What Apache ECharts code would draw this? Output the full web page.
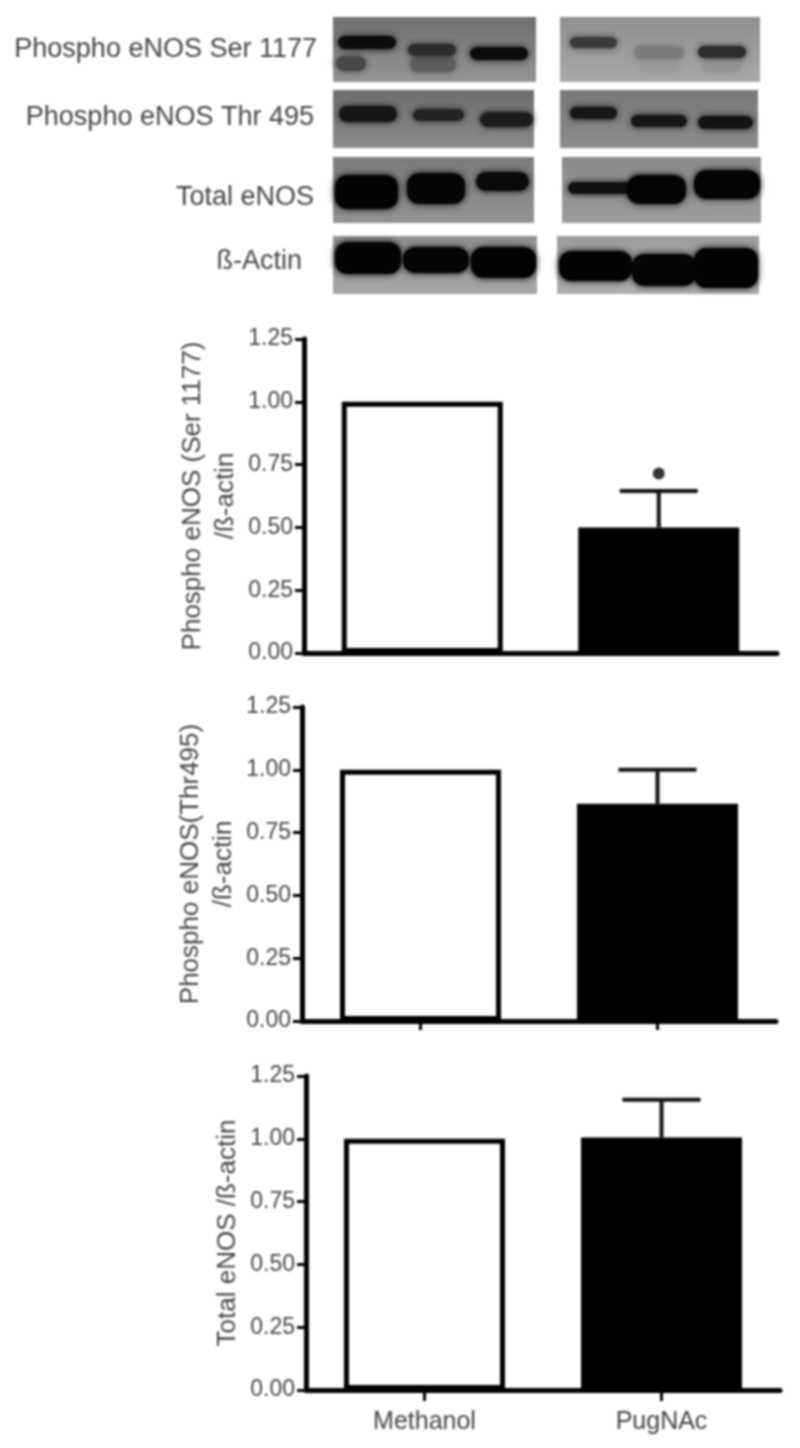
<!DOCTYPE html>
<html>
<head>
<meta charset="utf-8">
<style>
  html, body { margin: 0; padding: 0; background: #fff; }
  #main { width: 800px; height: 1448px; filter: blur(0.9px); }
</style>
<script src="https://cdn.jsdelivr.net/npm/echarts@6/dist/echarts.min.js"></script>
</head>
<body>
<div id="main"></div>
<script>
const categories = ['Methanol', 'PugNAc']
const tickLabels = ['0.00', '0.25', '0.50', '0.75', '1.00', '1.25']
const blotLabels = ['Phospho eNOS Ser 1177', 'Phospho eNOS Thr 495', 'Total eNOS', 'ß-Actin']

const serValues = [1.0, 0.5]
const serErrorTops = [null, 0.645]
const serMarkers = [null, 0.715]
const thrValues = [1.0, 0.865]
const thrErrorTops = [null, 1.0]
const totalValues = [1.0, 1.005]
const totalErrorTops = [null, 1.155]

const FONT = '"Liberation Sans", Arial, sans-serif'
const TEXT_COLOR = '#454545'

// blot panels: [x, y, w, h, fill top, fill bottom, bands [x, y, w, h, colour]]
const blotPanels = [
  [333, 17, 203, 65, '#6f6f6f', '#959595', [
    [336, 56, 30, 15, '#484848'], [410, 57, 46, 15, '#5e5e5e'], [338, 36, 58, 13, '#0c0c0c'],
    [408, 44, 48, 12, '#2c2c2c'], [470, 47, 58, 13, '#0c0c0c']]],
  [560, 17, 200, 65, '#8f8f8f', '#a8a8a8', [
    [702, 58, 40, 14, '#959595'], [638, 58, 42, 14, '#9a9a9a'], [570, 37, 47, 11, '#3c3c3c'],
    [634, 46, 50, 13, '#7c7c7c'], [698, 46, 48, 12, '#2c2c2c']]],
  [333, 90, 201, 58, '#6d6d6d', '#8a8a8a', [
    [339, 106, 58, 16, '#161616'], [413, 109, 51, 12, '#242424'], [480, 112, 53, 15, '#1c1c1c']]],
  [560, 90, 198, 58, '#787878', '#8c8c8c', [
    [570, 107, 47, 12, '#161616'], [631, 115, 56, 12, '#161616'], [698, 116, 55, 13, '#141414']]],
  [333, 157, 201, 66, '#7b7b7b', '#929292', [
    [335, 175, 63, 34, '#030303'], [407, 173, 58, 31, '#050505'], [476, 172, 53, 19, '#0a0a0a']]],
  [562, 157, 199, 66, '#8a8a8a', '#9c9c9c', [
    [568, 182, 63, 12, '#101010'], [627, 175, 59, 29, '#040404'], [694, 170, 66, 29, '#040404']]],
  [333, 236, 204, 58, '#909090', '#a6a6a6', [
    [335, 242, 66, 32, '#030303'], [403, 247, 66, 26, '#050505'], [471, 247, 65, 31, '#030303']]],
  [557, 236, 202, 58, '#9c9c9c', '#aeaeae', [
    [559, 251, 73, 30, '#030303'], [632, 254, 64, 32, '#050505'], [694, 248, 64, 40, '#030303']]]
]
const blotLabelRows = [
  { x: 317, y: 50 },
  { x: 314, y: 118 },
  { x: 314, y: 198 },
  { x: 302, y: 262 }
]

function buildBlotGraphics() {
  let elements = []
  blotPanels.forEach(panel => {
    elements.push({
      type: 'rect',
      silent: true,
      z: 1,
      shape: { x: panel[0], y: panel[1], width: panel[2], height: panel[3] },
      style: {
        fill: new echarts.graphic.LinearGradient(0, 0, 0, 1, [
          { offset: 0, color: panel[4] },
          { offset: 1, color: panel[5] }
        ])
      }
    })
    panel[6].forEach(band => {
      elements.push({
        type: 'rect',
        silent: true,
        z: 2,
        shape: { x: band[0], y: band[1], width: band[2], height: band[3], r: Math.min(band[3] / 2, 12) },
        style: { fill: band[4], shadowBlur: 7, shadowColor: band[4] }
      })
    })
  })
  blotLabels.forEach((text, i) => {
    elements.push({
      type: 'text',
      silent: true,
      z: 3,
      x: blotLabelRows[i].x,
      y: blotLabelRows[i].y,
      style: {
        text: text,
        font: '27px ' + FONT,
        fill: TEXT_COLOR,
        align: 'right',
        verticalAlign: 'middle'
      }
    })
  })
  return elements
}

// white bar with outline, black bar solid, both same outer width
function barData(values) {
  return values.map((v, i) => ({
    value: v,
    itemStyle: {
      color: i === 0 ? '#fff' : '#000',
      borderColor: '#000',
      borderWidth: 5
    }
  }))
}

function renderErrorBar(params, api) {
  let top = api.value(1)
  if (top === null || isNaN(top)) {
    return
  }
  let index = api.value(0)
  let capPoint = api.coord([index, top])
  let basePoint = api.coord([index, api.value(2)])
  let lineStyle = { stroke: '#111', lineWidth: 4 }
  return {
    type: 'group',
    children: [
      { type: 'line', shape: { x1: capPoint[0], y1: capPoint[1], x2: basePoint[0], y2: basePoint[1] }, style: lineStyle },
      { type: 'line', shape: { x1: capPoint[0] - 39, y1: capPoint[1], x2: capPoint[0] + 39, y2: capPoint[1] }, style: lineStyle }
    ]
  }
}

const panels = [
  { values: serValues, errorTops: serErrorTops, markers: serMarkers, name: 'Phospho eNOS (Ser 1177)\n/ß-actin', grid: { left: 304, top: 339, width: 473, height: 314 }, tick: 0, labels: false },
  { values: thrValues, errorTops: thrErrorTops, markers: null, name: 'Phospho eNOS(Thr495)\n/ß-actin', grid: { left: 302, top: 707, width: 474, height: 314 }, tick: 9, labels: false },
  { values: totalValues, errorTops: totalErrorTops, markers: null, name: 'Total eNOS /ß-actin', grid: { left: 306, top: 1076, width: 474, height: 314 }, tick: 11, labels: true }
]

let myChart = echarts.init(document.getElementById('main'), null, { renderer: 'canvas' })
let option = {
  animation: false,
  backgroundColor: '#fff',
  graphic: { elements: buildBlotGraphics() },
  grid: panels.map(p => Object.assign({ containLabel: false }, p.grid)),
  xAxis: panels.map((p, i) => ({
    type: 'category',
    gridIndex: i,
    data: categories,
    boundaryGap: true,
    axisLine: { show: true, lineStyle: { color: '#000', width: 5 } },
    axisTick: { show: p.tick > 0, alignWithLabel: true, length: p.tick, lineStyle: { color: '#000', width: 3 } },
    axisLabel: {
      show: p.labels,
      color: TEXT_COLOR,
      fontFamily: FONT,
      fontSize: 25,
      margin: 20
    },
    splitLine: { show: false }
  })),
  yAxis: panels.map((p, i) => ({
    type: 'value',
    gridIndex: i,
    min: 0,
    max: 1.25,
    interval: 0.25,
    name: p.name,
    nameLocation: 'middle',
    nameRotate: 90,
    nameGap: 62,
    nameMoveOverlap: false,
    nameTextStyle: { color: TEXT_COLOR, fontFamily: FONT, fontSize: 26, lineHeight: 33 },
    axisLine: { show: true, onZero: false, lineStyle: { color: '#000', width: 5 } },
    axisTick: { show: true, length: 9, lineStyle: { color: '#000', width: 3 } },
    axisLabel: {
      color: TEXT_COLOR,
      fontFamily: FONT,
      fontSize: 23,
      margin: 11,
      formatter: value => tickLabels[Math.round(value / 0.25)]
    },
    splitLine: { show: false }
  })),
  series: panels.flatMap((p, i) => {
    let list = [
      {
        type: 'bar',
        xAxisIndex: i,
        yAxisIndex: i,
        barWidth: 161,
        data: barData(p.values)
      },
      {
        type: 'custom',
        xAxisIndex: i,
        yAxisIndex: i,
        renderItem: renderErrorBar,
        encode: { x: 0, y: 1 },
        data: p.errorTops.map((top, idx) => [idx, top, p.values[idx]])
      }
    ]
    if (p.markers) {
      list.push({
        type: 'scatter',
        xAxisIndex: i,
        yAxisIndex: i,
        symbol: 'circle',
        symbolSize: 12,
        itemStyle: { color: '#000' },
        data: p.markers.map((m, idx) => [idx, m])
      })
    }
    return list
  })
}
myChart.setOption(option)
</script>
</body>
</html>
